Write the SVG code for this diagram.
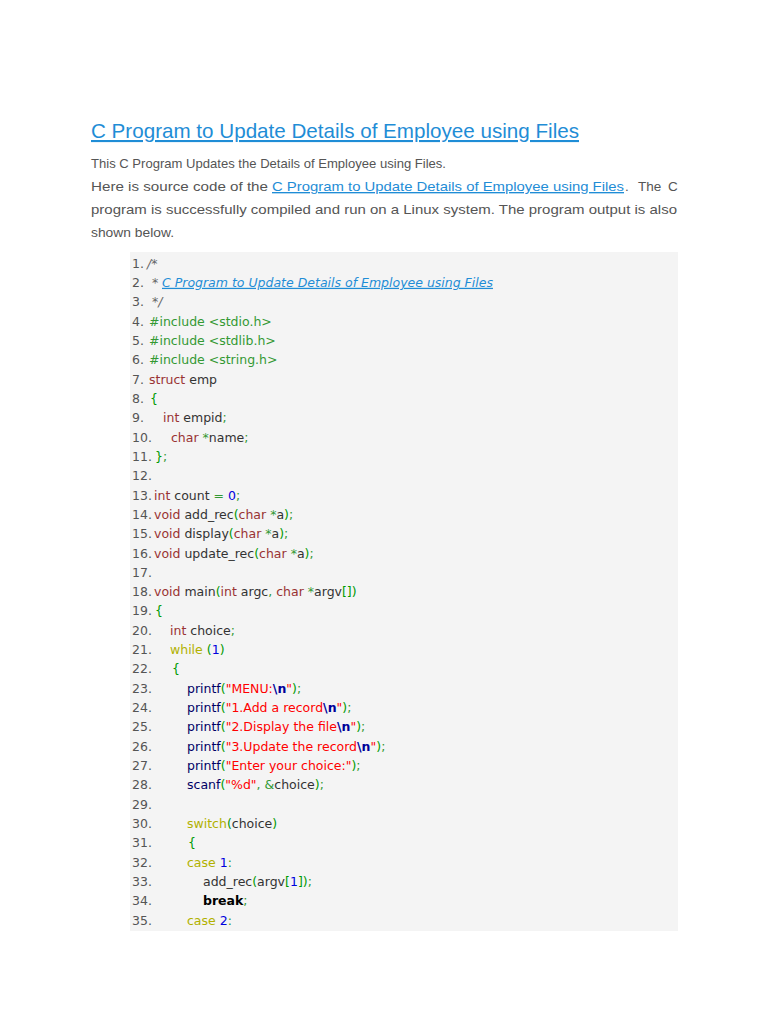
<svg xmlns="http://www.w3.org/2000/svg" width="768" height="1024" viewBox="0 0 768 1024">
<style>
.para{font-family:"Liberation Sans",Arial,sans-serif;font-size:13.5px;fill:#555}
.lnk{fill:#1f8dd6;text-decoration:underline}
.code{font-family:"DejaVu Sans",Verdana,sans-serif;font-size:12.5px;fill:#333}
.n{fill:#555}
.k{fill:#993333}
.c{fill:#666;font-style:italic}
.cl{fill:#1f8dd6;font-style:italic;text-decoration:underline}
.p{fill:#339933}
.b{fill:#009900}
.num{fill:#0000dd}
.s{fill:#ff0000}
.e{fill:#000099;font-weight:bold}
.f{fill:#000066}
.w{fill:#b1b100}
.kb{fill:#000;font-weight:bold}
</style>
<rect x="0" y="0" width="768" height="1024" fill="#ffffff"/>
<g id="title">
<text x="91" y="138" font-family="Liberation Sans, Arial, sans-serif" font-size="21" fill="#1f8dd6" text-decoration="underline" textLength="488" lengthAdjust="spacingAndGlyphs">C Program to Update Details of Employee using Files</text>
</g>
<g id="intro">
<text class="para" x="91" y="168" textLength="355" lengthAdjust="spacingAndGlyphs">This C Program Updates the Details of Employee using Files.</text>
<text class="para" x="91" y="191" textLength="177" lengthAdjust="spacingAndGlyphs">Here is source code of the</text>
<text class="para lnk" x="272" y="191" textLength="352" lengthAdjust="spacingAndGlyphs">C Program to Update Details of Employee using Files</text>
<text class="para" y="191"><tspan x="625">.</tspan><tspan x="638">The</tspan><tspan x="668">C</tspan></text>
<text class="para" x="91" y="214" textLength="586" lengthAdjust="spacingAndGlyphs">program is successfully compiled and run on a Linux system. The program output is also</text>
<text class="para" x="91" y="237" textLength="83" lengthAdjust="spacingAndGlyphs">shown below.</text>
</g>
<g id="codebox">
<rect x="130" y="252" width="548" height="679" fill="#f4f4f4"/>
<g class="code">
<text y="267.5"><tspan class="n" x="132">1.</tspan><tspan class="c" x="147">/*</tspan></text>
<text y="286.8"><tspan class="n" x="132">2.</tspan><tspan class="c" x="152">*</tspan><tspan class="cl" x="162">C Program to Update Details of Employee using Files</tspan></text>
<text y="306.2"><tspan class="n" x="132">3.</tspan><tspan class="c" x="152">*/</tspan></text>
<text y="325.5"><tspan class="n" x="132">4.</tspan><tspan class="p" x="149">#include &lt;stdio.h&gt;</tspan></text>
<text y="344.8"><tspan class="n" x="132">5.</tspan><tspan class="p" x="149">#include &lt;stdlib.h&gt;</tspan></text>
<text y="364.2"><tspan class="n" x="132">6.</tspan><tspan class="p" x="149">#include &lt;string.h&gt;</tspan></text>
<text y="383.5"><tspan class="n" x="132">7.</tspan><tspan class="k" x="149">struct</tspan><tspan> emp</tspan></text>
<text y="402.8"><tspan class="n" x="132">8.</tspan><tspan class="b" x="150">{</tspan></text>
<text y="422.1"><tspan class="n" x="132">9.</tspan><tspan class="k" x="163">int</tspan><tspan> empid</tspan><tspan class="p">;</tspan></text>
<text y="441.5"><tspan class="n" x="132">10.</tspan><tspan class="k" x="171">char</tspan><tspan> </tspan><tspan class="p">*</tspan><tspan>name</tspan><tspan class="p">;</tspan></text>
<text y="460.8"><tspan class="n" x="132">11.</tspan><tspan class="b" x="155">}</tspan><tspan class="p">;</tspan></text>
<text y="480.1"><tspan class="n" x="132">12.</tspan></text>
<text y="499.5"><tspan class="n" x="132">13.</tspan><tspan class="k" x="154">int</tspan><tspan> count </tspan><tspan class="p">=</tspan><tspan> </tspan><tspan class="num">0</tspan><tspan class="p">;</tspan></text>
<text y="518.8"><tspan class="n" x="132">14.</tspan><tspan class="k" x="154">void</tspan><tspan> add_rec</tspan><tspan class="b">(</tspan><tspan class="k">char</tspan><tspan> </tspan><tspan class="p">*</tspan><tspan>a</tspan><tspan class="b">)</tspan><tspan class="p">;</tspan></text>
<text y="538.1"><tspan class="n" x="132">15.</tspan><tspan class="k" x="154">void</tspan><tspan> display</tspan><tspan class="b">(</tspan><tspan class="k">char</tspan><tspan> </tspan><tspan class="p">*</tspan><tspan>a</tspan><tspan class="b">)</tspan><tspan class="p">;</tspan></text>
<text y="557.5"><tspan class="n" x="132">16.</tspan><tspan class="k" x="154">void</tspan><tspan> update_rec</tspan><tspan class="b">(</tspan><tspan class="k">char</tspan><tspan> </tspan><tspan class="p">*</tspan><tspan>a</tspan><tspan class="b">)</tspan><tspan class="p">;</tspan></text>
<text y="576.8"><tspan class="n" x="132">17.</tspan></text>
<text y="596.1"><tspan class="n" x="132">18.</tspan><tspan class="k" x="154">void</tspan><tspan> main</tspan><tspan class="b">(</tspan><tspan class="k">int</tspan><tspan> argc</tspan><tspan class="p">,</tspan><tspan> </tspan><tspan class="k">char</tspan><tspan> </tspan><tspan class="p">*</tspan><tspan>argv</tspan><tspan class="b">[])</tspan></text>
<text y="615.4"><tspan class="n" x="132">19.</tspan><tspan class="b" x="155">{</tspan></text>
<text y="634.8"><tspan class="n" x="132">20.</tspan><tspan class="k" x="170">int</tspan><tspan> choice</tspan><tspan class="p">;</tspan></text>
<text y="654.1"><tspan class="n" x="132">21.</tspan><tspan class="w" x="170">while</tspan><tspan> </tspan><tspan class="b">(</tspan><tspan class="num">1</tspan><tspan class="b">)</tspan></text>
<text y="673.4"><tspan class="n" x="132">22.</tspan><tspan class="b" x="172">{</tspan></text>
<text y="692.8"><tspan class="n" x="132">23.</tspan><tspan class="f" x="187">printf</tspan><tspan class="b">(</tspan><tspan class="s">"MENU:</tspan><tspan class="e">\n</tspan><tspan class="s">"</tspan><tspan class="b">)</tspan><tspan class="p">;</tspan></text>
<text y="712.1"><tspan class="n" x="132">24.</tspan><tspan class="f" x="187">printf</tspan><tspan class="b">(</tspan><tspan class="s">"1.Add a record</tspan><tspan class="e">\n</tspan><tspan class="s">"</tspan><tspan class="b">)</tspan><tspan class="p">;</tspan></text>
<text y="731.4"><tspan class="n" x="132">25.</tspan><tspan class="f" x="187">printf</tspan><tspan class="b">(</tspan><tspan class="s">"2.Display the file</tspan><tspan class="e">\n</tspan><tspan class="s">"</tspan><tspan class="b">)</tspan><tspan class="p">;</tspan></text>
<text y="750.8"><tspan class="n" x="132">26.</tspan><tspan class="f" x="187">printf</tspan><tspan class="b">(</tspan><tspan class="s">"3.Update the record</tspan><tspan class="e">\n</tspan><tspan class="s">"</tspan><tspan class="b">)</tspan><tspan class="p">;</tspan></text>
<text y="770.1"><tspan class="n" x="132">27.</tspan><tspan class="f" x="187">printf</tspan><tspan class="b">(</tspan><tspan class="s">"Enter your choice:"</tspan><tspan class="b">)</tspan><tspan class="p">;</tspan></text>
<text y="789.4"><tspan class="n" x="132">28.</tspan><tspan class="f" x="187">scanf</tspan><tspan class="b">(</tspan><tspan class="s">"%d"</tspan><tspan class="p">,</tspan><tspan> </tspan><tspan class="p">&amp;</tspan><tspan>choice</tspan><tspan class="b">)</tspan><tspan class="p">;</tspan></text>
<text y="808.7"><tspan class="n" x="132">29.</tspan></text>
<text y="828.1"><tspan class="n" x="132">30.</tspan><tspan class="w" x="187">switch</tspan><tspan class="b">(</tspan><tspan>choice</tspan><tspan class="b">)</tspan></text>
<text y="847.4"><tspan class="n" x="132">31.</tspan><tspan class="b" x="188">{</tspan></text>
<text y="866.7"><tspan class="n" x="132">32.</tspan><tspan class="w" x="187">case</tspan><tspan> </tspan><tspan class="num">1</tspan><tspan class="p">:</tspan></text>
<text y="886.1"><tspan class="n" x="132">33.</tspan><tspan x="203">add_rec</tspan><tspan class="b">(</tspan><tspan>argv</tspan><tspan class="b">[</tspan><tspan class="num">1</tspan><tspan class="b">])</tspan><tspan class="p">;</tspan></text>
<text y="905.4"><tspan class="n" x="132">34.</tspan><tspan class="kb" x="203">break</tspan><tspan class="p">;</tspan></text>
<text y="924.7"><tspan class="n" x="132">35.</tspan><tspan class="w" x="187">case</tspan><tspan> </tspan><tspan class="num">2</tspan><tspan class="p">:</tspan></text>
</g>
</g>
</svg>
